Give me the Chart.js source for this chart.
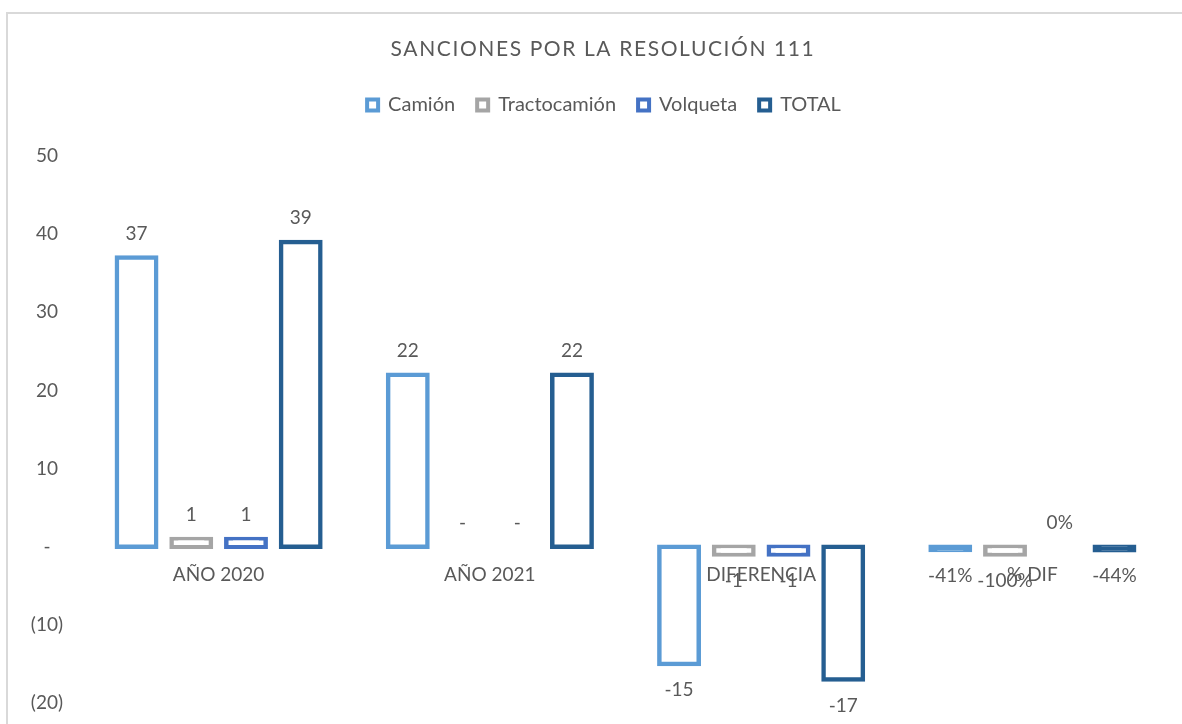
<!DOCTYPE html>
<html lang="es">
<head>
<meta charset="utf-8">
<title>Sanciones por la Resolución 111</title>
<script src="https://cdn.jsdelivr.net/npm/chart.js@4/dist/chart.umd.min.js"></script>
<style>
    body { margin: 0; background: #fff; }
    #wrap { position: relative; width: 1182px; height: 724px; }
    #frame {
        position: absolute; left: 6px; top: 12px; right: 0; bottom: 0;
        border-left: 2px solid #d9d9d9; border-top: 2px solid #d9d9d9;
    }
    canvas { position: absolute; left: 0; top: 0; }
</style>
</head>
<body>
<div id="wrap">
    <div id="frame"></div>
    <canvas id="sancionesChart" width="1182" height="724"></canvas>
</div>
<script>
const chartTitle = "SANCIONES POR LA RESOLUCIÓN 111";
const categories = ["AÑO 2020", "AÑO 2021", "DIFERENCIA", "% DIF"];
const camion = [37, 22, -15, -0.41];
const tractocamion = [1, 0, -1, -1.0];
const volqueta = [1, 0, -1, 0];
const total = [39, 22, -17, -0.44];

const textColor = "#595959";
const fontFamily = "Lato, 'Open Sans', sans-serif";

/** Tiny bars get filled so they look like a thick stroke */
function barFill(color) {
    return (ctx) => {
        const v = ctx.raw;
        return v !== 0 && Math.abs(v) < 0.6 ? color : "#ffffff";
    };
}

function makeDataset(label, data, color) {
    return {
        label,
        data,
        borderColor: color,
        backgroundColor: barFill(color),
        borderWidth: 4.5,
        borderSkipped: false,
        inflateAmount: 2.25,
        barPercentage: 0.72,
        categoryPercentage: 0.807,
    };
}

/** Value labels above / below each bar */
const valueLabels = {
    id: "valueLabels",
    afterDatasetsDraw(chart) {
        const ctx = chart.ctx;
        ctx.save();
        ctx.font = `19px ${fontFamily}`;
        ctx.fillStyle = textColor;
        ctx.textAlign = "center";
        ctx.textBaseline = "middle";
        chart.data.datasets.forEach((ds, i) => {
            chart.getDatasetMeta(i).data.forEach((bar, j) => {
                const v = ds.data[j];
                let txt;
                if (j === 3) txt = Math.round(v * 100) + "%";
                else txt = v === 0 ? "-" : String(v);
                const y = v >= 0 ? bar.y - 24 : bar.y + 26;
                ctx.fillText(txt, bar.x, y);
            });
        });
        ctx.restore();
    },
};

/** Spaced-out title like the original */
const spacedTitle = {
    id: "spacedTitle",
    afterDraw(chart) {
        const ctx = chart.ctx;
        ctx.save();
        ctx.font = `21px ${fontFamily}`;
        ctx.letterSpacing = "1.6px";
        ctx.fillStyle = textColor;
        ctx.textAlign = "center";
        ctx.textBaseline = "middle";
        ctx.fillText(chartTitle, 603, 49);
        ctx.restore();
    },
};

/** Push the plot down below the legend, and centre legend on the page */
const legendSpacer = {
    id: "legendSpacer",
    beforeInit(chart) {
        const fit = chart.legend.fit;
        chart.legend.fit = function () {
            fit.call(this);
            this.height += 31;
        };
    },
    afterLayout(chart) {
        chart.legend.left += 40;
    },
};

new Chart(document.getElementById("sancionesChart"), {
    type: "bar",
    data: {
        labels: categories,
        datasets: [
            makeDataset("Camión", camion, "#5B9BD5"),
            makeDataset("Tractocamión", tractocamion, "#A5A5A5"),
            makeDataset("Volqueta", volqueta, "#4472C4"),
            makeDataset("TOTAL", total, "#255E91"),
        ],
    },
    options: {
        responsive: false,
        animation: false,
        layout: { padding: { top: 73, right: 14, bottom: 21, left: 0 } },
        scales: {
            x: {
                position: { y: 0 },
                grid: { display: false, drawTicks: false },
                border: { display: false },
                afterFit: (scale) => {
                    scale.height = 0;
                },
                ticks: {
                    color: textColor,
                    font: { family: fontFamily, size: 19 },
                    padding: 17,
                    maxRotation: 0,
                    autoSkip: false,
                },
            },
            y: {
                min: -20,
                max: 50,
                grid: { display: false, drawTicks: false },
                border: { display: false },
                afterFit: (scale) => {
                    scale.width = 83;
                    scale.paddingTop = 11;
                    scale.paddingBottom = 11;
                },
                ticks: {
                    stepSize: 10,
                    color: textColor,
                    font: { family: fontFamily, size: 19 },
                    crossAlign: "center",
                    padding: 20,
                    callback: (v) => (v === 0 ? "-" : v < 0 ? `(${-v})` : v),
                },
            },
        },
        plugins: {
            title: { display: false },
            tooltip: { enabled: false },
            legend: {
                position: "top",
                labels: {
                    color: textColor,
                    font: { family: fontFamily, size: 20 },
                    boxWidth: 11,
                    boxHeight: 11,
                    padding: 22,
                    generateLabels: (chart) =>
                        Chart.defaults.plugins.legend.labels
                            .generateLabels(chart)
                            .map((item) => ({
                                ...item,
                                fillStyle: "#ffffff",
                                lineWidth: 4,
                            })),
                },
            },
        },
    },
    plugins: [valueLabels, spacedTitle, legendSpacer],
});
</script>
</body>
</html>
